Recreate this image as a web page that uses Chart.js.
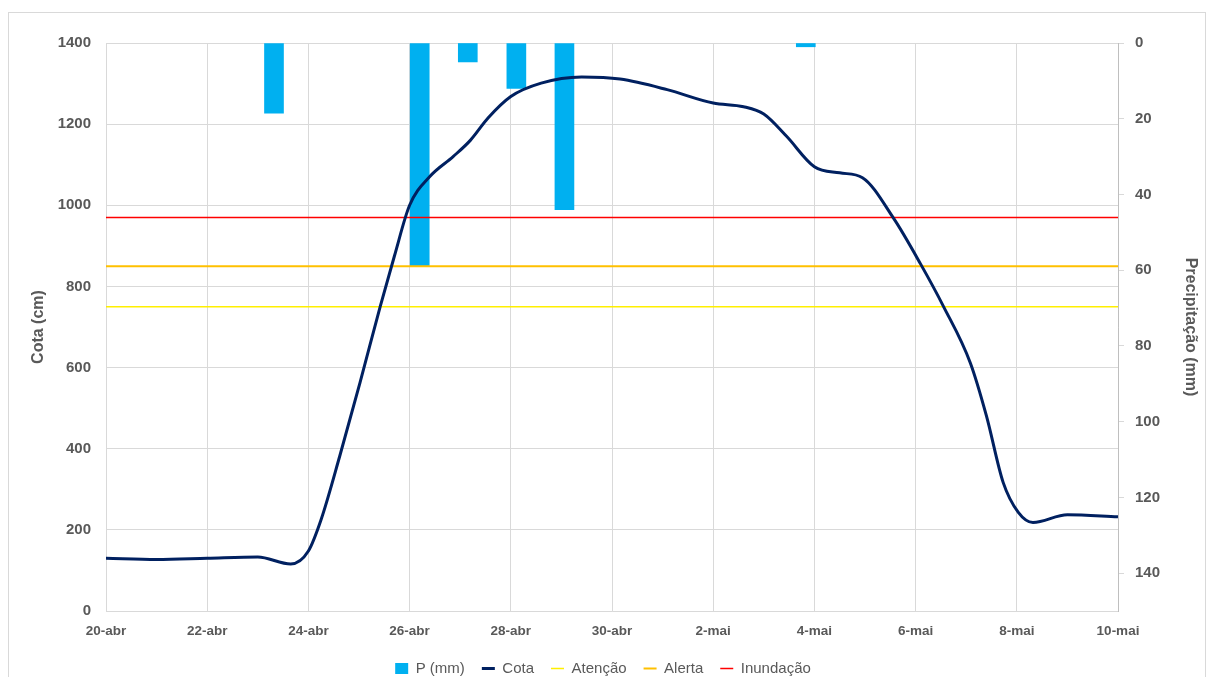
<!DOCTYPE html>
<html lang="pt">
<head>
    <meta charset="UTF-8">
    <title>Cota e Precipitação</title>
    <script src="https://cdn.jsdelivr.net/npm/chart.js"></script>
    <style>
        body {
            margin: 0;
            padding: 0;
            background: #fff;
            overflow: hidden;
        }
        /* outer chart frame, like the Excel chart border */
        .frame {
            position: absolute;
            left: 8px;
            top: 12px;
            width: 1196px;
            height: 700px;
            border-left: 1px solid #d9d9d9;
            border-top: 1px solid #d9d9d9;
            border-right: 1px solid #d9d9d9;
        }
        .chart-box {
            position: absolute;
            left: 0;
            top: 0;
            width: 1206px;
            height: 677px;
        }
    </style>
</head>
<body>
<div class="frame"></div>
<div class="chart-box">
    <canvas id="chart"></canvas>
</div>
<script>
    // x values are days counted from 20-abr
    const dateLabels = ['20-abr', '22-abr', '24-abr', '26-abr', '28-abr', '30-abr', '2-mai', '4-mai', '6-mai', '8-mai', '10-mai'];

    // river level (cm)
    const cotaDays = [0, 1, 2, 3, 3.65, 4.0, 4.25, 4.62, 5.02, 5.42, 5.7, 6.0, 6.4, 6.86, 7.2, 7.55, 8.0, 8.6, 9.4, 10.16,
        11.09, 12.0, 12.6, 13.0, 13.45, 14.0, 14.5, 14.95, 15.56, 16.1, 16.55, 17.08, 17.4, 17.73, 18.03, 18.32, 19.0, 20];
    const cotaValues = [130, 127, 130, 133, 116, 148, 225, 382, 563, 751, 875, 1000, 1071, 1120, 1160, 1215, 1268, 1301, 1316, 1311,
        1285, 1252, 1243, 1225, 1170, 1095, 1080, 1068, 969, 855, 751, 612, 481, 317, 243, 218, 237, 232];

    // rainfall (mm)
    const precipDays = [3.32, 6.2, 7.15, 8.11, 9.06, 13.83];
    const precipValues = [18.5, 59, 5, 12, 44, 1];

    // reference levels (cm)
    const atencaoLevel = 750;
    const alertaLevel = 850;
    const inundacaoLevel = 970;
    const rangeDays = [0, 20];

    const textColor = '#595959';
    const gridColor = '#d9d9d9';
    const fontFamily = "'Liberation Sans', Arial, sans-serif";

    function levelLine(level) {
        return rangeDays.map(d => ({ x: d, y: level }));
    }

    new Chart(document.getElementById('chart').getContext('2d'), {
        type: 'line',
        data: {
            datasets: [
                {
                    type: 'bar',
                    label: 'P (mm)',
                    data: precipDays.map((d, i) => ({ x: d, y: precipValues[i] })),
                    yAxisID: 'y2',
                    backgroundColor: '#00b0f0',
                    borderWidth: 0,
                    barThickness: 19,
                    pointStyle: 'rect',
                    order: 10
                },
                {
                    label: 'Cota',
                    data: cotaDays.map((d, i) => ({ x: d, y: cotaValues[i] })),
                    yAxisID: 'y',
                    borderColor: '#002060',
                    backgroundColor: '#002060',
                    borderWidth: 3,
                    pointRadius: 0,
                    pointStyle: 'line',
                    cubicInterpolationMode: 'monotone',
                    order: 1
                },
                {
                    label: 'Atenção',
                    data: levelLine(atencaoLevel),
                    yAxisID: 'y',
                    borderColor: '#ffef00',
                    backgroundColor: '#ffef00',
                    borderWidth: 1.5,
                    pointRadius: 0,
                    pointStyle: 'line',
                    order: 4
                },
                {
                    label: 'Alerta',
                    data: levelLine(alertaLevel),
                    yAxisID: 'y',
                    borderColor: '#ffc000',
                    backgroundColor: '#ffc000',
                    borderWidth: 2,
                    pointRadius: 0,
                    pointStyle: 'line',
                    order: 3
                },
                {
                    label: 'Inundação',
                    data: levelLine(inundacaoLevel),
                    yAxisID: 'y',
                    borderColor: '#ff0000',
                    backgroundColor: '#ff0000',
                    borderWidth: 1.5,
                    pointRadius: 0,
                    pointStyle: 'line',
                    order: 2
                }
            ]
        },
        options: {
            responsive: true,
            maintainAspectRatio: false,
            animation: false,
            layout: {
                padding: { top: 43, left: 0, right: 0, bottom: -9 }
            },
            plugins: {
                tooltip: { enabled: false },
                legend: {
                    position: 'bottom',
                    labels: {
                        usePointStyle: true,
                        pointStyleWidth: 13,
                        boxHeight: 11,
                        padding: 17,
                        color: textColor,
                        font: { family: fontFamily, size: 15 },
                        sort: (a, b) => a.datasetIndex - b.datasetIndex
                    }
                }
            },
            scales: {
                x: {
                    type: 'linear',
                    min: 0,
                    max: 20,
                    offset: false,
                    afterFit: scale => { scale.height = 33; },
                    grid: { color: gridColor, drawTicks: false, offset: false },
                    border: { color: gridColor },
                    ticks: {
                        stepSize: 2,
                        padding: 12,
                        maxRotation: 0,
                        color: textColor,
                        font: { family: fontFamily, size: 13.5, weight: 'bold' },
                        callback: value => dateLabels[value / 2]
                    }
                },
                y: {
                    position: 'left',
                    min: 0,
                    max: 1400,
                    afterFit: scale => { scale.width = 106; },
                    grid: { color: gridColor, drawTicks: false },
                    border: { color: gridColor },
                    ticks: {
                        stepSize: 200,
                        padding: 15,
                        color: textColor,
                        font: { family: fontFamily, size: 15, weight: 'bold' },
                        callback: value => String(value)
                    },
                    title: {
                        display: true,
                        text: 'Cota (cm)',
                        color: textColor,
                        padding: { top: 29, bottom: 0 },
                        font: { family: fontFamily, size: 16, weight: 'bold' }
                    }
                },
                y2: {
                    position: 'right',
                    reverse: true,
                    min: 0,
                    max: 150,
                    afterFit: scale => { scale.width = 88; },
                    afterBuildTicks: scale => {
                        scale.ticks = scale.ticks.filter(t => t.value <= 140);
                    },
                    grid: { drawOnChartArea: false, drawTicks: true, tickLength: 6, color: gridColor },
                    border: { color: '#bfbfbf' },
                    ticks: {
                        stepSize: 20,
                        padding: 11,
                        color: textColor,
                        font: { family: fontFamily, size: 15, weight: 'bold' },
                        callback: value => String(value)
                    },
                    title: {
                        display: true,
                        text: 'Precipitação (mm)',
                        color: textColor,
                        padding: { top: 6, bottom: 0 },
                        font: { family: fontFamily, size: 16, weight: 'bold' }
                    }
                }
            }
        }
    });
</script>
</body>
</html>
